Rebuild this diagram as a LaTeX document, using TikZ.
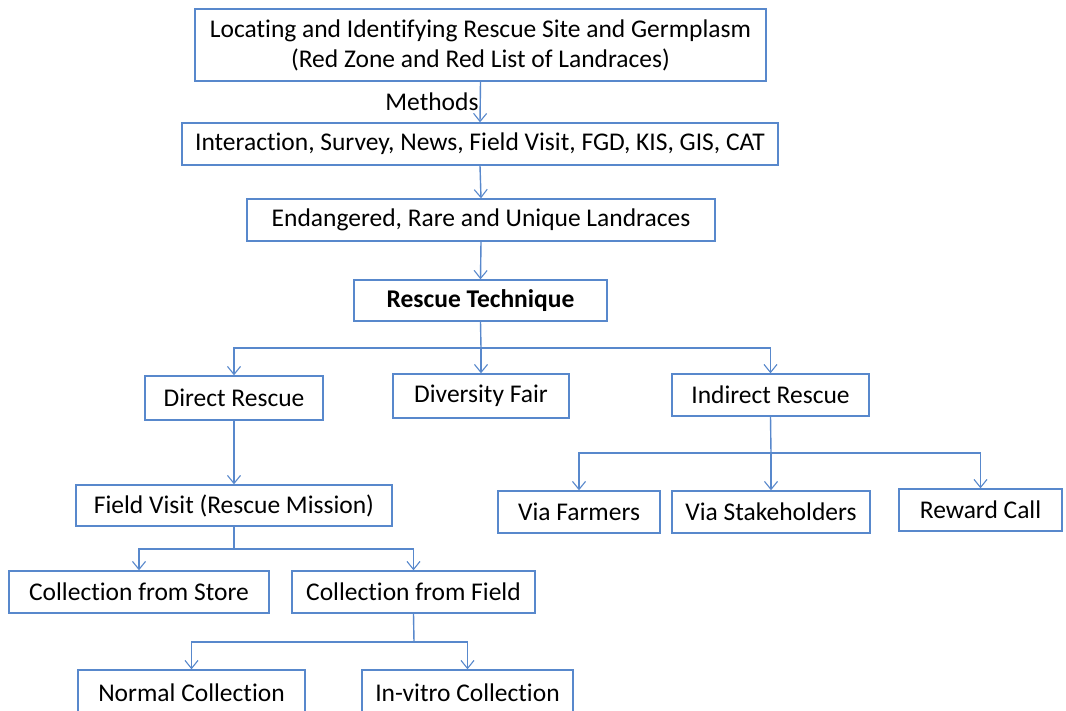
\documentclass[tikz,border=0pt]{standalone}
\usepackage{fontspec}
\setmainfont{Carlito}[Ligatures=NoCommon]
\usetikzlibrary{arrows.meta}
\definecolor{boxblue}{RGB}{88,136,204}
\tikzset{
  box/.style={draw=boxblue, line width=1.4pt, inner sep=0pt, align=center, font=\fontsize{25.5}{30}\selectfont, text=black},
  conn/.style={draw=boxblue, line width=1.4pt},
  arr/.style={conn, -{Straight Barb[length=8pt,width=13pt,line width=1.1pt]}}
}
\begin{document}
\begin{tikzpicture}[x=1pt,y=-1pt]
\clip (0,0) rectangle (1066,710);
\fill[white] (0,0) rectangle (1066,710);
\node[box, minimum width=571pt, minimum height=72pt] (b1) at (480.5,45) {Locating and Identifying Rescue Site and Germplasm\\(Red Zone and Red List of Landraces)};
\node[box, minimum width=596pt, minimum height=42pt] (b2) at (480,144) {Interaction, Survey, News, Field Visit, FGD, KIS, GIS, CAT};
\node[box, minimum width=468pt, minimum height=42pt] (b3) at (481,220) {Endangered, Rare and Unique Landraces};
\node[box, minimum width=253pt, minimum height=41pt] (b4) at (480.5,300.5) {\bfseries Rescue Technique};
\node[box, minimum width=178pt, minimum height=44pt] (dr) at (234,398) {Direct Rescue};
\node[box, minimum width=176pt, minimum height=44pt] (df) at (481,396) {Diversity Fair};
\node[box, minimum width=197pt, minimum height=42pt] (ir) at (770.5,395) {Indirect Rescue};
\node[box, minimum width=316pt, minimum height=41pt] (fv) at (234,505.5) {Field Visit (Rescue Mission)};
\node[box, minimum width=260pt, minimum height=42pt] (cs) at (139,592) {Collection from Store};
\node[box, minimum width=243pt, minimum height=42pt] (cf) at (413.5,592) {Collection from Field};
\node[box, minimum width=227pt, minimum height=46pt] (nc) at (191.5,693) {Normal Collection};
\node[box, minimum width=211pt, minimum height=46pt] (iv) at (467.5,693) {In-vitro Collection};
\node[box, minimum width=162pt, minimum height=42pt] (vf) at (579,512) {Via Farmers};
\node[box, minimum width=198pt, minimum height=42pt] (vs) at (771,512) {Via Stakeholders};
\node[box, minimum width=163pt, minimum height=42pt] (rc) at (980.5,510) {Reward Call};
% connectors
\draw[arr] (b1.south) -- node[pos=0.5, left=0pt, inner sep=1pt, font=\fontsize{25.5}{28}\selectfont, text=black] (lm) {Methods} (b2.north);
\draw[arr] (b2.south) -- (b3.north);
\draw[arr] (b3.south) -- (b4.north);
\coordinate (j1) at (481,348);
\draw[conn] (b4.south) -- (j1);
\draw[arr] (j1) -| (dr.north);
\draw[arr] (j1) -- (df.north);
\draw[arr] (j1) -| (ir.north);
\coordinate (j2) at (771,453);
\draw[conn] (ir.south) -- (j2);
\draw[arr] (j2) -| (vf.north);
\draw[arr] (j2) -- (vs.north);
\draw[arr] (j2) -| (rc.north);
\draw[arr] (dr.south) -- (fv.north);
\coordinate (j3) at (234,549);
\draw[conn] (fv.south) -- (j3);
\draw[arr] (j3) -| (cs.north);
\draw[arr] (j3) -| (cf.north);
\coordinate (j4) at (414,642);
\draw[conn] (cf.south) -- (j4);
\draw[arr] (j4) -| (nc.north);
\draw[arr] (j4) -| (iv.north);
\end{tikzpicture}
\end{document}
